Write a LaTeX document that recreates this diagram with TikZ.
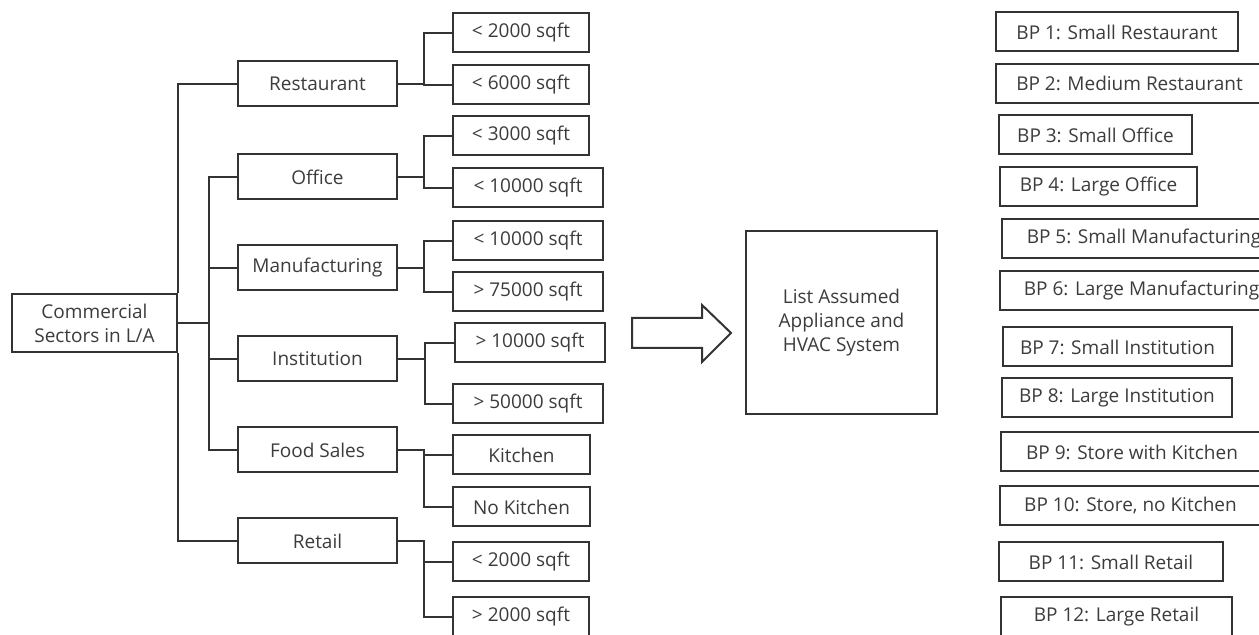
\documentclass[tikz,border=0pt]{standalone}
\usepackage{fontspec}
\setmainfont{Open Sans}
\usepackage{tikz}
\usepackage{xcolor}
\definecolor{linegray}{HTML}{333333}
\definecolor{textgray}{HTML}{3C3C3C}

\begin{document}
\begin{tikzpicture}[x=0.5pt,y=-0.5pt,
  every node/.style={font=\fontsize{9.5}{12}\selectfont, text=textgray},
  box/.style={draw=linegray, line width=1pt, inner sep=0pt, align=center},
  sector/.style={box, minimum width=79.5pt, minimum height=22.5pt},
  leaf/.style={box, anchor=west, minimum height=19.5pt},
  bpbox/.style={box, anchor=west, minimum height=19.5pt},
  link/.style={draw=linegray, line width=1pt}]
\useasboundingbox (0,0) rectangle (1259,635);
\clip (0,0) rectangle (1259,635);
\fill[white] (0,0) rectangle (1259,635);
% sectors tree
\node[box, minimum width=82.5pt, minimum height=29pt] (comm) at (94.5,323) {Commercial\\Sectors in L/A};
\node[sector] (rest) at (317.5,84) {Restaurant};
\node[sector] (off) at (317.5,177) {Office};
\node[sector] (manu) at (317.5,268) {Manufacturing};
\node[sector] (inst) at (317.5,359) {Institution};
\node[sector] (food) at (317.5,450) {Food Sales};
\node[sector] (ret) at (317.5,541) {Retail};
% size classes
\node[leaf, minimum width=68pt] (rest1) at (452,33) {< 2000 sqft};
\node[leaf, minimum width=68pt] (rest2) at (452,85) {< 6000 sqft};
\node[leaf, minimum width=68pt] (off1) at (452,136) {< 3000 sqft};
\node[leaf, minimum width=75pt] (off2) at (452,188) {< 10000 sqft};
\node[leaf, minimum width=75pt] (manu1) at (452,241) {< 10000 sqft};
\node[leaf, minimum width=75pt] (manu2) at (452,292) {> 75000 sqft};
\node[leaf, minimum width=75pt] (inst1) at (454,343) {> 10000 sqft};
\node[leaf, minimum width=75pt] (inst2) at (452,404) {> 50000 sqft};
\node[leaf, minimum width=68.5pt] (food1) at (452,455) {Kitchen};
\node[leaf, minimum width=68.5pt] (food2) at (452,507) {No Kitchen};
\node[leaf, minimum width=68pt] (ret1) at (452,562) {< 2000 sqft};
\node[leaf, minimum width=68pt] (ret2) at (452,617) {> 2000 sqft};
% trunk
\coordinate (hub) at (209,323);
\draw[link] (rest.west) -| (comm.north east);
\draw[link] (comm.south east) |- (ret.west);
\draw[link] (comm.east) -- (hub);
\draw[link] (off.west) -| (hub) |- (food.west);
\draw[link] (manu.west) -- (manu.west -| hub);
\draw[link] (inst.west) -- (inst.west -| hub);
% branches
\draw[link] (rest.east) -- ++(26,0) |- (rest1.west);
\draw[link] (rest.east) -- ++(26,0) |- (rest2.west);
\draw[link] (off.east) -- ++(26,0) |- (off1.west);
\draw[link] (off.east) -- ++(26,0) |- (off2.west);
\draw[link] (manu.east) -- ++(26,0) |- (manu1.west);
\draw[link] (manu.east) -- ++(26,0) |- (manu2.west);
\draw[link] (inst.east) -- ++(27,0) |- (inst1.west);
\draw[link] (inst.east) -- ++(27,0) |- (inst2.west);
\draw[link] (food.east) -- ++(26,0) |- (food1.west);
\draw[link] (food.east) -- ++(26,0) |- (food2.west);
\draw[link] (ret.east) -- ++(26,0) |- (ret1.west);
\draw[link] (ret.east) -- ++(26,0) |- (ret2.west);
% block arrow and middle step
\draw[link, fill=white] (632,318) -- (702,318) -- (702,305) -- (731,333) -- (702,362) -- (702,348) -- (632,348) -- cycle;
\node[box, minimum width=95.5pt, minimum height=91.5pt] (list) at (841.5,323) {List Assumed\\Appliance and\\HVAC System};
% building profiles
\node[bpbox, minimum width=121pt] (bp1) at (995,32) {BP 1: Small Restaurant};
\node[bpbox, minimum width=133.5pt] (bp2) at (995,83.5) {BP 2: Medium Restaurant};
\node[bpbox, minimum width=96.5pt] (bp3) at (998,135) {BP 3: Small Office};
\node[bpbox, minimum width=98.5pt] (bp4) at (999,187) {BP 4: Large Office};
\node[bpbox, minimum width=142pt] (bp5) at (1001,239) {BP 5: Small Manufacturing};
\node[bpbox, minimum width=141.5pt] (bp6) at (999,291) {BP 6: Large Manufacturing};
\node[bpbox, minimum width=114.5pt] (bp7) at (1002,347) {BP 7: Small Institution};
\node[bpbox, minimum width=115pt] (bp8) at (1001,398) {BP 8: Large Institution};
\node[bpbox, minimum width=131pt] (bp9) at (1000,452) {BP 9: Store with Kitchen};
\node[bpbox, minimum width=130.5pt] (bp10) at (999,506) {BP 10: Store, no Kitchen};
\node[bpbox, minimum width=112pt] (bp11) at (998,562) {BP 11: Small Retail};
\node[bpbox, minimum width=115.5pt] (bp12) at (1000,617) {BP 12: Large Retail};
\end{tikzpicture}
\end{document}
